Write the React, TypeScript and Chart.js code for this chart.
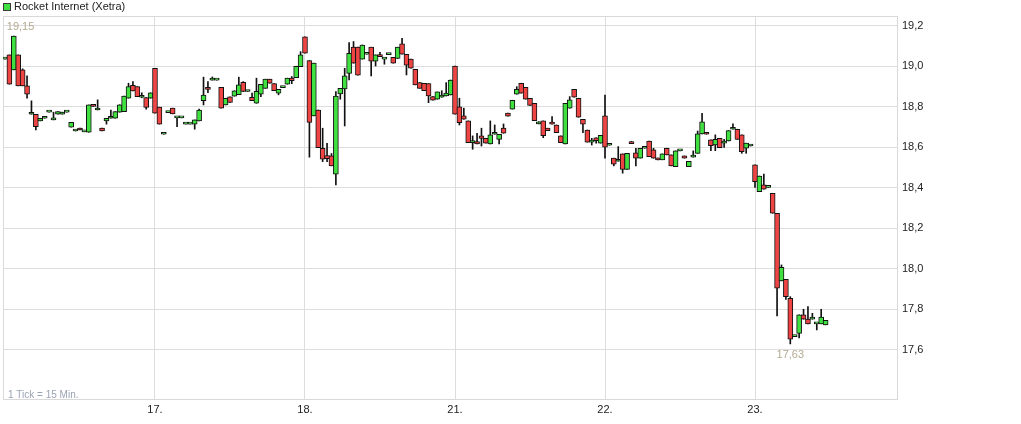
import React, { useEffect, useRef } from "react";
import { Chart, registerables } from "chart.js";

Chart.register(...registerables);

const SERIES_NAME = "Rocket Internet (Xetra)";
const TICK_NOTE = "1 Tick = 15 Min.";
const dayTickIndex = [34, 68, 102, 136, 170];
const dayLabels = ["17.", "18.", "21.", "22.", "23."];
const priceTicks = [17.6, 17.8, 18.0, 18.2, 18.4, 18.6, 18.8, 19.0, 19.2];

const opens = [
  19.036, 19.057, 18.983, 19.057, 18.983, 18.904, 18.764, 18.764, 18.731, 18.744,
  18.774, 18.736, 18.764, 18.764, 18.774, 18.700, 18.681, 18.695, 18.677, 18.675,
  18.809, 18.785, 18.695, 18.731, 18.744, 18.744, 18.774, 18.777, 18.843, 18.907,
  18.900, 18.848, 18.846, 18.843,
  18.991, 18.799, 18.665, 18.772, 18.794, 18.746, 18.746, 18.715, 18.715, 18.715,
  18.731, 18.831, 18.897, 18.932, 18.932, 18.897, 18.810, 18.850, 18.853, 18.861,
  18.922, 18.876, 18.848, 18.818, 18.863, 18.892, 18.937, 18.915, 18.868, 18.895,
  18.912, 18.942, 18.945, 18.999,
  19.146, 19.029, 18.756, 18.785, 18.596, 18.560, 18.558, 18.468, 18.864, 18.889,
  18.966, 19.095, 19.095, 19.036, 19.060, 19.095, 19.026, 19.058, 19.036, 19.058,
  19.045, 19.039, 19.111, 19.060, 19.036, 18.986, 18.920, 18.917, 18.915, 18.851,
  18.838, 18.848, 18.854, 18.859,
  19.002, 18.800, 18.756, 18.731, 18.624, 18.629, 18.657, 18.645, 18.617, 18.665,
  18.640, 18.695, 18.770, 18.789, 18.863, 18.917, 18.897, 18.843, 18.818, 18.716,
  18.731, 18.695, 18.724, 18.711, 18.657, 18.617, 18.794, 18.887, 18.843, 18.739,
  18.686, 18.626, 18.648, 18.621,
  18.756, 18.611, 18.547, 18.532, 18.568, 18.492, 18.625, 18.573, 18.547, 18.596,
  18.632, 18.588, 18.547, 18.539, 18.596, 18.563, 18.505, 18.583, 18.558, 18.505,
  18.552, 18.571, 18.667, 18.675, 18.637, 18.612, 18.645, 18.621, 18.632, 18.690,
  18.690, 18.662, 18.596, 18.607,
  18.514, 18.382, 18.415, 18.403, 18.373, 18.275, 17.941, 17.949, 17.855, 17.666,
  17.682, 17.773, 17.752, 17.752, 17.729, 17.729, 17.724,
];

const highs = [
  19.036, 19.057, 19.150, 19.057, 18.988, 18.953, 18.830, 18.764, 18.744, 18.744,
  18.774, 18.774, 18.777, 18.774, 18.774, 18.724, 18.681, 18.695, 18.677, 18.810,
  18.809, 18.835, 18.695, 18.744, 18.785, 18.777, 18.811, 18.854, 18.917, 18.925,
  18.900, 18.870, 18.846, 18.870,
  18.991, 18.799, 18.665, 18.772, 18.794, 18.746, 18.746, 18.715, 18.715, 18.736,
  18.790, 18.947, 18.925, 18.948, 18.932, 18.897, 18.843, 18.850, 18.880, 18.947,
  18.925, 18.876, 18.868, 18.942, 18.912, 18.937, 18.937, 18.915, 18.887, 18.895,
  18.942, 18.950, 19.001, 19.073,
  19.146, 19.029, 19.016, 18.785, 18.695, 18.620, 18.570, 18.876, 18.892, 18.991,
  19.118, 19.123, 19.095, 19.106, 19.060, 19.095, 19.057, 19.070, 19.036, 19.058,
  19.045, 19.095, 19.139, 19.060, 19.036, 18.986, 18.920, 18.917, 18.915, 18.851,
  18.874, 18.880, 18.920, 18.933,
  19.002, 18.843, 18.794, 18.731, 18.657, 18.670, 18.695, 18.645, 18.731, 18.711,
  18.665, 18.716, 18.770, 18.833, 18.900, 18.917, 18.897, 18.843, 18.818, 18.727,
  18.731, 18.695, 18.752, 18.711, 18.657, 18.818, 18.851, 18.887, 18.843, 18.739,
  18.686, 18.645, 18.648, 18.660,
  18.859, 18.611, 18.547, 18.604, 18.568, 18.571, 18.630, 18.596, 18.596, 18.596,
  18.632, 18.596, 18.547, 18.568, 18.596, 18.563, 18.583, 18.583, 18.558, 18.532,
  18.583, 18.681, 18.769, 18.675, 18.637, 18.662, 18.645, 18.640, 18.683, 18.716,
  18.690, 18.662, 18.621, 18.607,
  18.514, 18.459, 18.469, 18.403, 18.373, 18.275, 18.020, 17.949, 17.863, 17.666,
  17.773, 17.801, 17.814, 17.781, 17.729, 17.801, 17.746,
];

const lows = [
  19.036, 18.912, 18.983, 18.904, 18.904, 18.843, 18.764, 18.686, 18.731, 18.744,
  18.774, 18.736, 18.764, 18.764, 18.774, 18.700, 18.681, 18.686, 18.677, 18.675,
  18.803, 18.785, 18.681, 18.715, 18.744, 18.744, 18.774, 18.777, 18.843, 18.879,
  18.851, 18.845, 18.789, 18.843,
  18.769, 18.715, 18.665, 18.772, 18.766, 18.703, 18.746, 18.715, 18.715, 18.690,
  18.731, 18.810, 18.871, 18.932, 18.932, 18.794, 18.810, 18.822, 18.853, 18.861,
  18.876, 18.876, 18.831, 18.818, 18.851, 18.892, 18.917, 18.880, 18.860, 18.895,
  18.912, 18.915, 18.945, 18.999,
  19.065, 18.552, 18.756, 18.599, 18.530, 18.530, 18.509, 18.415, 18.838, 18.706,
  18.933, 19.016, 18.957, 19.036, 19.060, 18.953, 19.002, 19.048, 19.011, 19.058,
  19.016, 19.039, 19.060, 18.958, 18.991, 18.909, 18.892, 18.880, 18.821, 18.833,
  18.838, 18.848, 18.854, 18.859,
  18.764, 18.711, 18.739, 18.624, 18.591, 18.617, 18.607, 18.621, 18.617, 18.665,
  18.617, 18.670, 18.754, 18.789, 18.863, 18.868, 18.838, 18.808, 18.732, 18.716,
  18.648, 18.683, 18.715, 18.673, 18.624, 18.617, 18.794, 18.848, 18.749, 18.673,
  18.626, 18.612, 18.621, 18.621,
  18.547, 18.611, 18.509, 18.532, 18.473, 18.492, 18.619, 18.509, 18.547, 18.596,
  18.555, 18.547, 18.539, 18.539, 18.563, 18.509, 18.505, 18.583, 18.547, 18.505,
  18.552, 18.571, 18.667, 18.665, 18.584, 18.584, 18.599, 18.600, 18.632, 18.690,
  18.640, 18.571, 18.571, 18.607,
  18.403, 18.382, 18.394, 18.403, 18.275, 17.768, 17.941, 17.850, 17.630, 17.666,
  17.660, 17.752, 17.729, 17.752, 17.699, 17.729, 17.724,
];

const closes = [
  19.036, 18.912, 19.150, 18.904, 18.904, 18.863, 18.764, 18.703, 18.744, 18.744,
  18.774, 18.736, 18.777, 18.774, 18.774, 18.724, 18.681, 18.686, 18.677, 18.810,
  18.803, 18.785, 18.681, 18.744, 18.744, 18.777, 18.811, 18.854, 18.900, 18.879,
  18.851, 18.848, 18.797, 18.870,
  18.769, 18.715, 18.665, 18.772, 18.766, 18.746, 18.746, 18.715, 18.715, 18.736,
  18.785, 18.859, 18.887, 18.932, 18.932, 18.794, 18.843, 18.822, 18.880, 18.909,
  18.876, 18.876, 18.831, 18.877, 18.912, 18.937, 18.917, 18.880, 18.887, 18.895,
  18.942, 18.930, 19.001, 19.057,
  19.065, 18.724, 19.016, 18.599, 18.542, 18.545, 18.509, 18.853, 18.892, 18.953,
  19.065, 19.016, 18.957, 19.106, 19.060, 19.026, 19.057, 19.048, 19.036, 19.058,
  19.016, 19.095, 19.060, 19.006, 18.991, 18.909, 18.892, 18.880, 18.854, 18.833,
  18.874, 18.859, 18.868, 18.933,
  18.764, 18.722, 18.739, 18.624, 18.624, 18.617, 18.645, 18.621, 18.662, 18.665,
  18.665, 18.670, 18.754, 18.833, 18.887, 18.868, 18.838, 18.808, 18.732, 18.716,
  18.658, 18.683, 18.715, 18.673, 18.624, 18.818, 18.835, 18.848, 18.749, 18.715,
  18.626, 18.626, 18.634, 18.660,
  18.601, 18.611, 18.517, 18.532, 18.492, 18.571, 18.619, 18.547, 18.596, 18.596,
  18.555, 18.547, 18.539, 18.568, 18.563, 18.509, 18.583, 18.583, 18.547, 18.532,
  18.552, 18.667, 18.726, 18.665, 18.609, 18.640, 18.599, 18.621, 18.683, 18.690,
  18.640, 18.579, 18.621, 18.607,
  18.431, 18.459, 18.394, 18.403, 18.275, 17.905, 18.008, 17.863, 17.653, 17.666,
  17.773, 17.752, 17.729, 17.762, 17.729, 17.762, 17.746,
];

const UP = "#3fe03f";
const DOWN = "#ef4444";
const FONT = "'Liberation Sans', Arial, Helvetica, sans-serif";
const fmt = (v: number, d: number) => v.toFixed(d).replace(".", ",");

export default function App() {
  const ref = useRef<HTMLCanvasElement>(null);

  useEffect(() => {
    const canvas = ref.current;
    if (!canvas) return;
    const idx = opens.map((_, i) => i);
    const bodies = idx.map((i) => ({ x: i, y: [opens[i], closes[i]] }));
    const wicks = idx.map((i) => ({ x: i, y: [lows[i], highs[i]] }));
    const colors = idx.map((i) => (closes[i] >= opens[i] ? UP : DOWN));
    const maxHigh = Math.max(...highs);
    const iMax = highs.indexOf(maxHigh);
    const minLow = Math.min(...lows);
    const iMin = lows.indexOf(minLow);

    const overlay = {
      id: "overlay",
      beforeDatasetsDraw(chart: any) {
        const { ctx, chartArea: a } = chart;
        ctx.save();
        ctx.strokeStyle = "#d9d9d9";
        ctx.lineWidth = 1;
        ctx.strokeRect(Math.round(a.left) + 0.5, Math.round(a.top) + 0.5,
          Math.round(a.right - a.left) - 1, Math.round(a.bottom - a.top) - 1);
        ctx.restore();
      },
      afterDraw(chart: any) {
        const { ctx, chartArea: a } = chart;
        const x = chart.scales.x;
        const y = chart.scales.y;
        ctx.save();
        // legend
        ctx.fillStyle = UP;
        ctx.fillRect(3, 3, 8, 8);
        ctx.strokeStyle = "#3a3a3a";
        ctx.lineWidth = 1;
        ctx.strokeRect(3.5, 3.5, 7, 7);
        ctx.font = "11px " + FONT;
        ctx.fillStyle = "#222";
        ctx.textBaseline = "middle";
        ctx.textAlign = "left";
        ctx.fillText(SERIES_NAME, 14, 7);
        // extreme labels
        ctx.fillStyle = "#b5ab93";
        ctx.fillText(fmt(maxHigh, 2), x.getPixelForValue(iMax) - 7, y.getPixelForValue(maxHigh) - 9);
        ctx.textAlign = "center";
        ctx.fillText(fmt(minLow, 2), x.getPixelForValue(iMin), y.getPixelForValue(minLow) + 11);
        // note
        ctx.textAlign = "left";
        ctx.fillStyle = "#9aa3b3";
        ctx.font = "10px " + FONT;
        ctx.fillText(TICK_NOTE, a.left + 5, a.bottom - 5);
        ctx.restore();
      },
    };

    const chart = new Chart(canvas, {
      type: "bar",
      data: {
        datasets: [
          {
            label: SERIES_NAME,
            data: bodies as any,
            backgroundColor: colors,
            borderColor: "#111",
            borderWidth: 1,
            borderSkipped: false,
            barThickness: 5,
            minBarLength: 2,
            grouped: false,
            order: 1,
          },
          {
            label: "range",
            data: wicks as any,
            backgroundColor: "#111",
            borderWidth: 0,
            barThickness: 1,
            grouped: false,
            order: 2,
          },
        ],
      },
      options: {
        responsive: false,
        animation: false,
        events: [],
        layout: { padding: { left: 3, top: 16, right: 0, bottom: 0 } },
        plugins: { legend: { display: false }, tooltip: { enabled: false } },
        scales: {
          x: {
            type: "linear",
            min: -0.45,
            max: 202.41,
            offset: false,
            grid: { offset: false, color: "#dddddd", drawTicks: false },
            border: { display: false },
            afterBuildTicks: (scale: any) => {
              scale.ticks = dayTickIndex.map((v) => ({ value: v }));
            },
            afterFit: (scale: any) => {
              scale.height = 24;
            },
            ticks: {
              autoSkip: false,
              maxRotation: 0,
              padding: 3,
              color: "#222",
              font: { family: FONT, size: 11 },
              callback: (v: any) => {
                const k = dayTickIndex.indexOf(Number(v));
                return k >= 0 ? dayLabels[k] : "";
              },
            },
          },
          y: {
            type: "linear",
            position: "right",
            min: 17.353,
            max: 19.249,
            grid: { color: "#dddddd", drawTicks: false },
            border: { display: false },
            afterBuildTicks: (scale: any) => {
              scale.ticks = priceTicks.map((v) => ({ value: v }));
            },
            afterFit: (scale: any) => {
              scale.width = 123;
            },
            ticks: {
              padding: 4,
              color: "#222",
              font: { family: FONT, size: 11 },
              callback: (v: any) => fmt(Number(v), 1),
            },
          },
        },
      },
      plugins: [overlay],
    });

    return () => chart.destroy();
  }, []);

  return (
    <div style={{ position: "absolute", left: 0, top: 0, width: 1021, height: 424, background: "#fff" }}>
      <canvas ref={ref} width={1021} height={424} style={{ display: "block" }} />
    </div>
  );
}
